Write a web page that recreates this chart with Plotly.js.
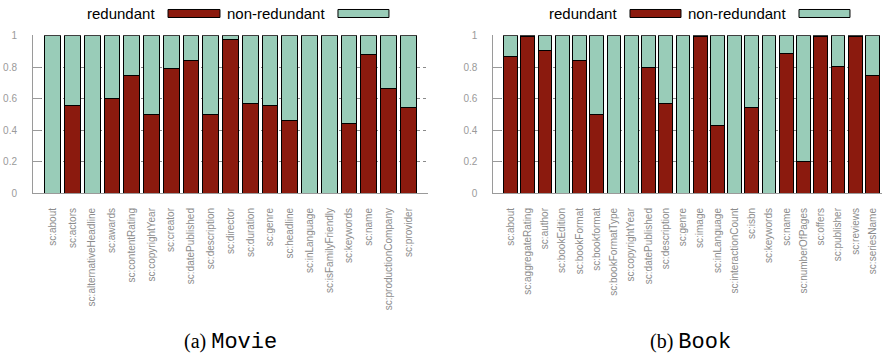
<!DOCTYPE html>
<html>
<head>
<meta charset="utf-8">
<script src="https://cdn.plot.ly/plotly-3.0.1.min.js"></script>
<style>html,body{margin:0;padding:0;background:#fff;}#chart{width:882px;height:358px;}</style>
</head>
<body>
<div id="chart"></div>
<script>
// ---- data ----
const movieProps = ["sc:about","sc:actors","sc:alternativeHeadline","sc:awards","sc:contentRating","sc:copyrightYear","sc:creator","sc:datePublished","sc:description","sc:director","sc:duration","sc:genre","sc:headline","sc:inLanguage","sc:isFamilyFriendly","sc:keywords","sc:name","sc:productionCompany","sc:provider"];
const movieRedundant = [0, 0.56, 0, 0.60, 0.75, 0.50, 0.79, 0.845, 0.50, 0.98, 0.57, 0.56, 0.46, 0, 0, 0.44, 0.883, 0.667, 0.545];

const bookProps = ["sc:about","sc:aggregateRating","sc:author","sc:bookEdition","sc:bookFormat","sc:bookformat","sc:bookFormatType","sc:copyrightYear","sc:datePublished","sc:description","sc:genre","sc:image","sc:inLanguage","sc:interactionCount","sc:isbn","sc:keywords","sc:name","sc:numberOfPages","sc:offers","sc:publisher","sc:reviews","sc:seriesName"];
const bookRedundant = [0.867, 0.997, 0.91, 0, 0.843, 0.50, 0, 0, 0.80, 0.57, 0, 0.995, 0.43, 0, 0.547, 0, 0.89, 0.20, 0.997, 0.807, 0.997, 0.75];

const seriesNames = ["redundant", "non-redundant"];
const yTicks = [0, 0.2, 0.4, 0.6, 0.8, 1];
const yTickText = ["0", "0.2", "0.4", "0.6", "0.8", "1"];

// ---- style ----
const RED = "#8b1a0e";
const GREEN = "#99ccb8";
const complement = arr => arr.map(v => +(1 - v).toFixed(4));

function barTrace(x, y, name, color, xa, ya) {
  return {
    type: "bar", x: x, y: y, name: name, xaxis: xa, yaxis: ya,
    marker: {color: color, line: {color: "#000", width: 1}},
    showlegend: false, hoverinfo: "x+y+name"
  };
}

const traces = [
  barTrace(movieProps, movieRedundant, seriesNames[0], RED, "x", "y"),
  barTrace(movieProps, complement(movieRedundant), seriesNames[1], GREEN, "x", "y"),
  barTrace(bookProps, bookRedundant, seriesNames[0], RED, "x2", "y2"),
  barTrace(bookProps, complement(bookRedundant), seriesNames[1], GREEN, "x2", "y2")
];

const tickFontX = {family: "Liberation Sans, Arial, sans-serif", size: 10, color: "#8c8c8c"};
const tickFontY = {family: "Liberation Sans, Arial, sans-serif", size: 10, color: "#9a9a9a"};

function xAxis(domain, range, anchor) {
  return {
    domain: domain, range: range, anchor: anchor, type: "category",
    showline: true, linecolor: "#9a9a9a", linewidth: 1,
    ticks: "", tickangle: -90, tickfont: tickFontX,
    ticklabelstandoff: 10, showgrid: false, zeroline: false, fixedrange: true
  };
}
function yAxis(anchor) {
  return {
    domain: [0.4609, 0.9017], range: [0, 1.005], anchor: anchor,
    tickvals: yTicks, ticktext: yTickText, tickfont: tickFontY,
    ticks: "inside", ticklen: 8, tickcolor: "#9a9a9a", tickwidth: 1,
    showline: true, linecolor: "#9a9a9a", linewidth: 1,
    showgrid: true, gridcolor: "#8a8a8a", griddash: "dot", gridwidth: 1,
    zeroline: false, ticklabelstandoff: 13, fixedrange: true
  };
}

const legFont = {family: "Liberation Sans, Arial, sans-serif", size: 15, color: "#000"};
function legendParts(textRight1, sw1, textRight2, sw2) {
  const ann = [
    {text: seriesNames[0], x: textRight1, xanchor: "right"},
    {text: seriesNames[1], x: textRight2, xanchor: "right"}
  ].map(a => Object.assign(a, {xref: "paper", yref: "paper", y: 0.9609, yanchor: "middle", showarrow: false, font: legFont}));
  const shp = [
    {x0: sw1[0], x1: sw1[1], fillcolor: RED},
    {x0: sw2[0], x1: sw2[1], fillcolor: GREEN}
  ].map(s => Object.assign(s, {type: "rect", xref: "paper", yref: "paper", y0: 0.9511, y1: 0.9735, line: {color: "#000", width: 1}}));
  return {ann, shp};
}
const legA = legendParts(0.178, [0.1905, 0.2494], 0.3707, [0.3832, 0.4410]);
const legB = legendParts(0.7018, [0.7143, 0.7721], 0.8934, [0.9059, 0.9637]);

const capFont = {family: "Liberation Serif, Times New Roman, serif", size: 20, color: "#000"};
const captions = [
  {text: '(a) <span style="font-family:Liberation Mono, Courier New, monospace;font-size:22px">Movie</span>', x: 0.2619},
  {text: '(b) <span style="font-family:Liberation Mono, Courier New, monospace;font-size:22px">Book</span>', x: 0.7834}
].map(c => Object.assign(c, {xref: "paper", yref: "paper", y: 0.0419, xanchor: "center", yanchor: "middle", showarrow: false, font: capFont}));

const layout = {
  width: 882, height: 358,
  margin: {l: 0, r: 0, t: 0, b: 0},
  paper_bgcolor: "#fff", plot_bgcolor: "rgba(0,0,0,0)",
  barmode: "stack", bargap: 0.2,
  showlegend: false,
  xaxis: xAxis([0.0374, 0.4853], [-1, 19], "y"),
  yaxis: yAxis("x"),
  xaxis2: xAxis([0.5593, 1], [-1, 21.55], "y2"),
  yaxis2: yAxis("x2"),
  annotations: legA.ann.concat(legB.ann, captions),
  shapes: legA.shp.concat(legB.shp)
};

Plotly.newPlot("chart", traces, layout, {displayModeBar: false, staticPlot: true});
</script>
</body>
</html>
